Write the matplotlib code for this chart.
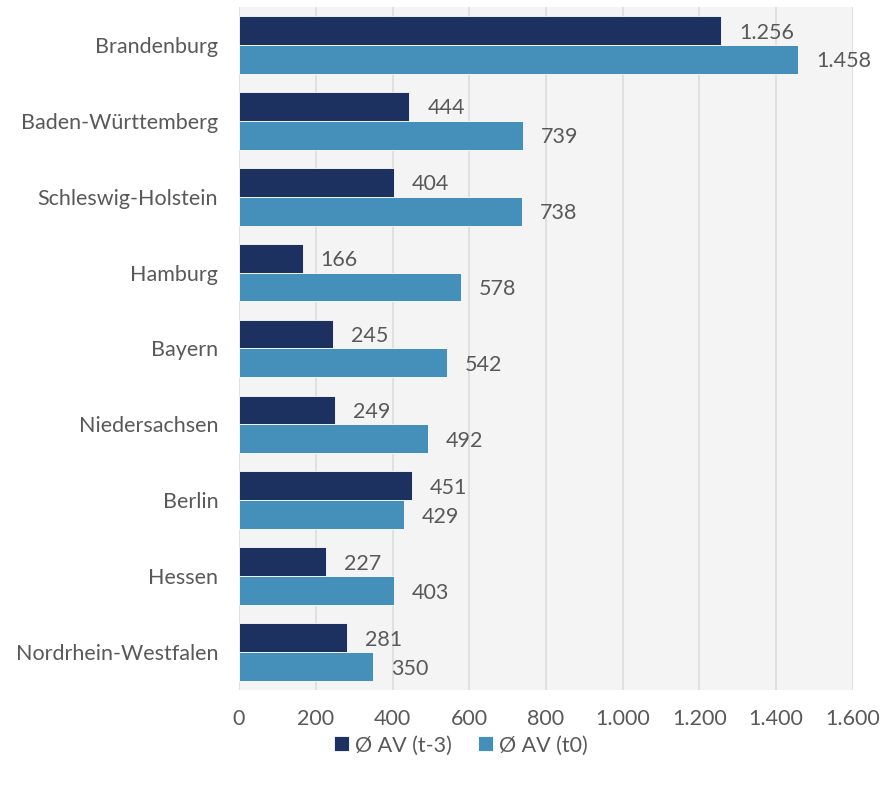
import numpy as np
import matplotlib.pyplot as plt

# Daten
laender = ['Brandenburg', 'Baden-Württemberg', 'Schleswig-Holstein', 'Hamburg',
           'Bayern', 'Niedersachsen', 'Berlin', 'Hessen', 'Nordrhein-Westfalen']
av_t3 = [1256, 444, 404, 166, 245, 249, 451, 227, 281]
av_t0 = [1458, 739, 738, 578, 542, 492, 429, 403, 350]
xticks = [0, 200, 400, 600, 800, 1000, 1200, 1400, 1600]

def fmt(v):
    return f'{v:,}'.replace(',', '.')

plt.rcParams['font.family'] = ['Lato', 'DejaVu Sans']

dark = '#1c3160'
light = '#4490bb'
grey = '#595959'

fig = plt.figure(figsize=(8.83, 7.88), dpi=100)
ax = fig.add_axes([0.2707, 0.1244, 0.6953, 0.8668])
ax.set_facecolor('#f4f4f4')

y = np.arange(len(laender))
h = 0.38
b1 = ax.barh(y - h / 2, av_t3, height=h, color=dark, edgecolor='white', linewidth=0.6,
             label='Ø AV (t-3)', zorder=3)
b2 = ax.barh(y + h / 2, av_t0, height=h, color=light, edgecolor='white', linewidth=0.6,
             label='Ø AV (t0)', zorder=3)

for bars, vals in ((b1, av_t3), (b2, av_t0)):
    for bar, v in zip(bars, vals):
        ax.annotate(fmt(v), (bar.get_width(), bar.get_y() + bar.get_height() / 2),
                    xytext=(13, -1.5), textcoords='offset points', va='center', ha='left',
                    fontsize=15.5, color=grey)

ax.set_xlim(0, 1600)
ax.set_ylim(len(laender) - 0.5, -0.5)
ax.set_yticks(y)
ax.set_yticklabels(laender)
ax.set_xticks(xticks)
ax.set_xticklabels([fmt(t) for t in xticks])
ax.tick_params(axis='both', length=0, labelsize=15.5, labelcolor=grey)
ax.tick_params(axis='x', pad=14)
ax.tick_params(axis='y', pad=15)
ax.grid(axis='x', color='#dcdcdc', linewidth=1.2, zorder=0)
for s in ax.spines.values():
    s.set_visible(False)

fig.legend(handles=[b1, b2], loc='center', bbox_to_anchor=(0.522, 0.054), ncol=2,
           frameon=False, fontsize=15.5, labelcolor=grey, handlelength=0.7,
           handleheight=0.7, handletextpad=0.3, columnspacing=1.2)

fig.savefig('out.png', dpi=100)
